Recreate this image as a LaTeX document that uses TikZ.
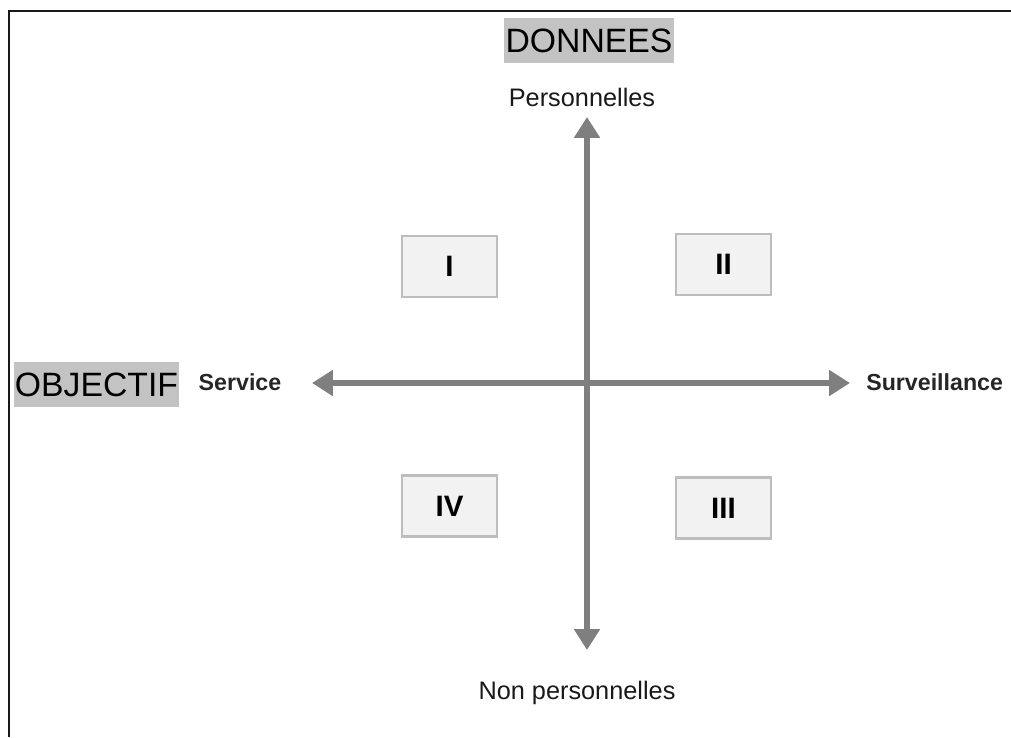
\documentclass[tikz,border=0pt]{standalone}
\usepackage{fontspec}
\setmainfont{Liberation Sans}
\usetikzlibrary{arrows.meta}
\definecolor{axisgray}{HTML}{7F7F7F}
\definecolor{boxfill}{HTML}{F2F2F2}
\definecolor{boxline}{HTML}{BDBDBD}
\definecolor{titlegray}{HTML}{C3C3C3}
\tikzset{
	quadrant/.style={draw=boxline,fill=boxfill,line width=2pt,inner sep=0pt,
		minimum width=2.375cm,minimum height=1.525cm,font=\fontsize{21}{25}\selectfont\bfseries},
	title/.style={fill=titlegray,inner xsep=1pt,inner ysep=0pt,minimum height=1.125cm,
		font=\fontsize{24}{28}\selectfont},
	pole/.style={font=\fontsize{18}{22}\selectfont,text=black!90},
	side/.style={font=\fontsize{16.5}{20}\selectfont\bfseries,text=black!85},
	axis/.style={axisgray,line width=4pt,{Triangle[width=0.62cm,length=0.52cm]}-{Triangle[width=0.62cm,length=0.52cm]}}
}

\begin{document}
\begin{tikzpicture}[x=0.025cm,y=-0.025cm]
	\useasboundingbox (0,0) rectangle (1011,737);
	\draw[line width=2pt,black!90] (9,737) -- (9,11) -- (1011,11);
	% axes
	\coordinate (west) at (312,383);
	\coordinate (east) at (850,383);
	\coordinate (north) at (587,117);
	\coordinate (south) at (587,650);
	\draw[axis] (west) -- (east);
	\draw[axis] (north) -- (south);
	% quadrants
	\node[quadrant] (q1) at (449.5,266.5) {I};
	\node[quadrant] (q2) at (723.5,264.5) {II};
	\node[quadrant] (q3) at (723.5,508) {III};
	\node[quadrant] (q4) at (449.5,506) {IV};
	% labels
	\node[title] (donnees) at (589,40.5) {DONNEES};
	\node[title] (objectif) at (96.5,384.5) {OBJECTIF};
	\node[pole] (perso) at (582,97) {Personnelles};
	\node[pole] (nonperso) at (577,693) {Non personnelles};
	\node[side] (service) at (240,382) {Service};
	\node[side,anchor=west,inner xsep=0pt] (surv) at (866,382) {Surveillance};
\end{tikzpicture}
\end{document}
